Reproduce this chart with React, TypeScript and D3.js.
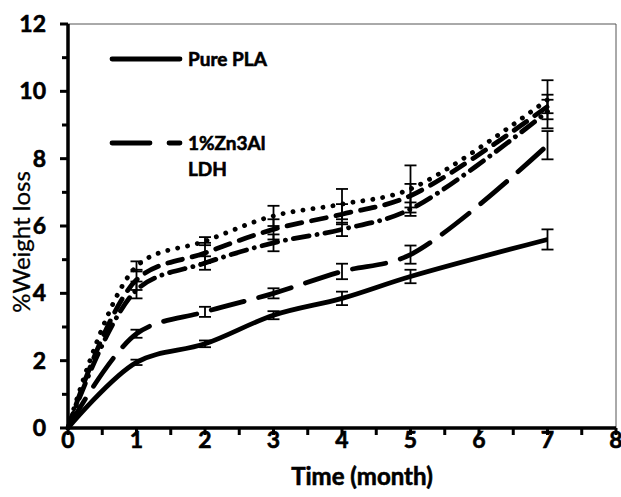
import { useEffect, useRef } from 'react';
import * as d3 from 'd3';

const months = [0, 1, 2, 3, 4, 5, 7];

const purePla = [0, 1.95, 2.5, 3.35, 3.85, 4.5, 5.6];
const purePlaErr = [0, 0.08, 0.1, 0.12, 0.2, 0.2, 0.3];

const ldh1 = [0, 2.8, 3.45, 4.0, 4.65, 5.15, 8.4];
const ldh1Err = [0, 0.12, 0.15, 0.15, 0.23, 0.27, 0.42];

const dashSeries = [0, 4.4, 5.2, 5.9, 6.35, 6.9, 9.55];
const dashErr = [0, 0.3, 0.3, 0.3, 0.3, 0.35, 0.2];

const dashDotSeries = [0, 4.1, 4.9, 5.5, 5.9, 6.5, 9.4];
const dashDotErr = [0, 0.25, 0.2, 0.25, 0.2, 0.2, 0.5];

const dotSeries = [0, 4.8, 5.55, 6.3, 6.65, 7.1, 9.75];
const dotErr = [0, 0.15, 0.12, 0.3, 0.45, 0.7, 0.58];

const xTicks = [0, 1, 2, 3, 4, 5, 6, 7, 8];
const yTicks = [0, 2, 4, 6, 8, 10, 12];

const FONT = 'Lato, "Open Sans", sans-serif';

function boldText(sel, size) {
  return sel
    .style('font-family', FONT)
    .style('font-weight', 700)
    .style('font-size', `${size}px`)
    .attr('stroke', '#000')
    .attr('stroke-width', 0.6);
}

function App() {
  const svgRef = useRef();

  useEffect(() => {
    const svg = d3.select(svgRef.current);
    svg.selectAll('*').remove();

    const left = 68;
    const right = 616;
    const top = 24;
    const bottom = 428;

    const x = d3.scaleLinear().domain([0, 8]).range([left, right]);
    const y = d3.scaleLinear().domain([0, 12]).range([bottom, top]);

    // plot frame (thin top/right)
    svg
      .append('path')
      .attr('d', `M${left},${top}H${right}V${bottom}`)
      .attr('fill', 'none')
      .attr('stroke', '#555')
      .attr('stroke-width', 1);

    const series = [
      { values: purePla, err: purePlaErr, dash: null, cap: 'butt' },
      { values: ldh1, err: ldh1Err, dash: '34,15', cap: 'round' },
      { values: dashSeries, err: dashErr, dash: '15,10', cap: 'round' },
      { values: dashDotSeries, err: dashDotErr, dash: '16,8,0.1,8', cap: 'round' },
      { values: dotSeries, err: dotErr, dash: '0.1,10', cap: 'round' },
    ];

    const line = d3
      .line()
      .x(d => x(d[0]))
      .y(d => y(d[1]))
      .curve(d3.curveCatmullRom);

    series.forEach(s => {
      const pts = months.map((m, i) => [m, s.values[i]]);
      svg
        .append('path')
        .attr('d', line(pts))
        .attr('fill', 'none')
        .attr('stroke', '#000')
        .attr('stroke-width', 4.8)
        .attr('stroke-linecap', s.cap)
        .attr('stroke-dasharray', s.dash);
    });

    // error bars
    series.forEach(s => {
      months.forEach((m, i) => {
        if (s.err[i] === 0) return;
        const cx = x(m);
        const y0 = y(s.values[i] - s.err[i]);
        const y1 = y(s.values[i] + s.err[i]);
        const g = svg.append('g').attr('stroke', '#000').attr('stroke-width', 1.8);
        g.append('line').attr('x1', cx).attr('x2', cx).attr('y1', y0).attr('y2', y1);
        g.append('line').attr('x1', cx - 6).attr('x2', cx + 6).attr('y1', y0).attr('y2', y0);
        g.append('line').attr('x1', cx - 6).attr('x2', cx + 6).attr('y1', y1).attr('y2', y1);
      });
    });

    // axes
    const xAxis = svg.append('g');
    xAxis
      .selectAll('line.minor')
      .data(d3.range(0, 8.01, 0.5))
      .enter()
      .append('line')
      .attr('x1', d => x(d))
      .attr('x2', d => x(d))
      .attr('y1', bottom)
      .attr('y2', bottom + 7)
      .attr('stroke', '#000')
      .attr('stroke-width', 3);
    boldText(
      xAxis
        .selectAll('text')
        .data(xTicks)
        .enter()
        .append('text')
        .attr('x', d => x(d))
        .attr('y', bottom + 20)
        .attr('text-anchor', 'middle'),
      23,
    ).text(d => d);

    const yAxis = svg.append('g');
    yAxis
      .selectAll('line')
      .data(d3.range(0, 12.01, 1))
      .enter()
      .append('line')
      .attr('x1', left)
      .attr('x2', d => (d % 2 === 0 ? left - 8 : left - 6))
      .attr('y1', d => y(d))
      .attr('y2', d => y(d))
      .attr('stroke', '#000')
      .attr('stroke-width', 3);
    boldText(
      yAxis
        .selectAll('text')
        .data(yTicks)
        .enter()
        .append('text')
        .attr('x', left - 22)
        .attr('y', d => y(d) + 8)
        .attr('text-anchor', 'end'),
      23,
    ).text(d => d);

    svg
      .append('path')
      .attr('d', `M${left},${top}V${bottom}H${right}`)
      .attr('fill', 'none')
      .attr('stroke', '#000')
      .attr('stroke-width', 3.5);

    // titles
    boldText(
      svg.append('text').attr('x', 362).attr('y', 485).attr('text-anchor', 'middle'),
      24,
    ).text('Time (month)');

    svg
      .append('text')
      .attr('transform', 'translate(30,242) rotate(-90)')
      .attr('text-anchor', 'middle')
      .style('font-family', FONT)
      .style('font-size', '24px')
      .attr('stroke', '#000')
      .attr('stroke-width', 0.3)
      .text('%Weight loss');

    // legend
    const legend = svg.append('g');
    legend
      .append('line')
      .attr('x1', 112)
      .attr('x2', 180)
      .attr('y1', 59)
      .attr('y2', 59)
      .attr('stroke', '#000')
      .attr('stroke-width', 4.8)
      .attr('stroke-linecap', 'round');
    boldText(legend.append('text').attr('x', 188).attr('y', 66), 19).text('Pure PLA');
    legend
      .append('line')
      .attr('x1', 112)
      .attr('x2', 180)
      .attr('y1', 143)
      .attr('y2', 143)
      .attr('stroke', '#000')
      .attr('stroke-width', 4.8)
      .attr('stroke-linecap', 'round')
      .attr('stroke-dasharray', '38,19');
    boldText(legend.append('text').attr('x', 188).attr('y', 150), 19).text('1%Zn3Al');
    boldText(legend.append('text').attr('x', 188).attr('y', 176), 19).text('LDH');
  }, []);

  return (
    <svg
      ref={svgRef}
      width={621}
      height={497}
      style={{ position: 'absolute', left: 0, top: 0, background: '#fff' }}
    />
  );
}

export default App;
